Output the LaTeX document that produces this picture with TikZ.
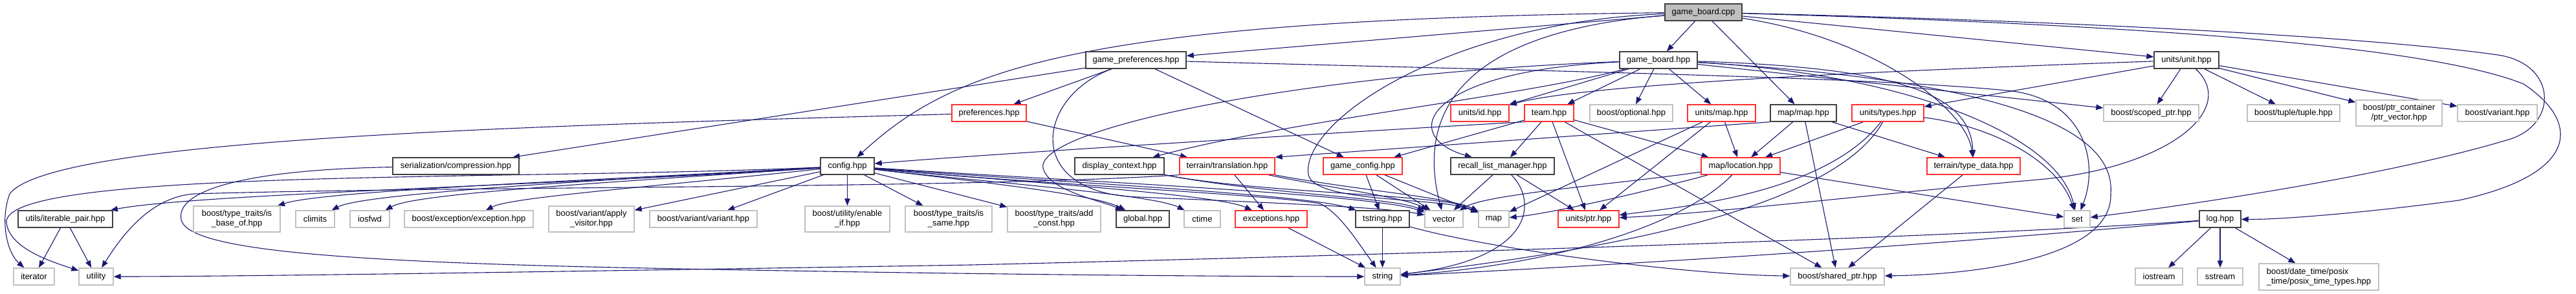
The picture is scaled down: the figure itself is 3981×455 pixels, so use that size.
\documentclass[tikz,border=0pt]{standalone}
\usepackage{fontspec}
\setmainfont{Liberation Sans}
\usetikzlibrary{arrows.meta,backgrounds}
\definecolor{edgec}{HTML}{191970}
\definecolor{bbord}{HTML}{404040}
\definecolor{rbord}{HTML}{FF3030}
\definecolor{gbord}{HTML}{C0C0C0}
\definecolor{gfill}{HTML}{BFBFBF}
\tikzset{
 box/.style={rectangle, inner sep=0pt, minimum height=26pt, line width=1.4pt, fill=white, text=black, font=\fontsize{13}{15}\selectfont},
 bbox/.style={box, draw=bbord},
 rbox/.style={box, draw=rbord},
 gbox/.style={box, draw=gbord},
 twoline/.style={minimum height=40pt, align=center},
 dep/.style={draw=edgec, line width=1.1pt, -{Triangle[length=11pt,width=8.5pt]}},
}
\begin{document}
\begin{tikzpicture}[x=1pt,y=-1pt]
\useasboundingbox (0,0) rectangle (3981,455);
% row 0
\node[bbox,minimum width=119pt,fill=gfill] (gbc) at (2632.5,19) {game\_board.cpp};
% row 1
\node[bbox,minimum width=155pt] (gp) at (1755.5,93) {game\_preferences.hpp};
\node[bbox,minimum width=120pt] (gbh) at (2563,93) {game\_board.hpp};
\node[bbox,minimum width=100pt] (unit) at (3379,93) {units/unit.hpp};
% row 2
\node[rbox,minimum width=115pt] (prefs) at (1528.5,175) {preferences.hpp};
\node[rbox,minimum width=90pt] (uid) at (2287,175) {units/id.hpp};
\node[rbox,minimum width=76pt] (team) at (2394,175) {team.hpp};
\node[gbox,minimum width=128pt] (optional) at (2521,175) {boost/optional.hpp};
\node[rbox,minimum width=105pt] (umap) at (2660.5,175) {units/map.hpp};
\node[bbox,minimum width=102pt] (mapmap) at (2787,175) {map/map.hpp};
\node[rbox,minimum width=111pt] (types) at (2917.5,175) {units/types.hpp};
\node[gbox,minimum width=147pt] (scoped) at (3324.5,175) {boost/scoped\_ptr.hpp};
\node[gbox,minimum width=143pt] (tuple) at (3544.5,175) {boost/tuple/tuple.hpp};
\node[gbox,twoline,minimum width=133pt] (ptrvec) at (3707.5,175) {boost/ptr\_container\\/ptr\_vector.hpp};
\node[gbox,minimum width=123pt] (variant) at (3859.5,175) {boost/variant.hpp};
% row 3
\node[bbox,minimum width=195pt] (compr) at (704.5,257) {serialization/compression.hpp};
\node[bbox,minimum width=83pt] (config) at (1309.5,257) {config.hpp};
\node[bbox,minimum width=138pt] (dctx) at (1730,257) {display\_context.hpp};
\node[rbox,minimum width=147pt] (trans) at (1896.5,257) {terrain/translation.hpp};
\node[rbox,minimum width=122pt] (gcfg) at (2106,257) {game\_config.hpp};
\node[bbox,minimum width=160pt] (recall) at (2322,257) {recall\_list\_manager.hpp};
\node[rbox,minimum width=122pt] (loc) at (2690,257) {map/location.hpp};
\node[rbox,minimum width=144pt] (tdata) at (3050,257) {terrain/type\_data.hpp};
% row 4
\node[bbox,minimum width=146pt] (ipair) at (101,339) {utils/iterable\_pair.hpp};
\node[gbox,twoline,minimum width=134pt] (isbase) at (366,339) {boost/type\_traits/is\\\_base\_of.hpp};
\node[gbox,minimum width=60pt] (climits) at (487,339) {climits};
\node[gbox,minimum width=61pt] (iosfwd) at (571.5,339) {iosfwd};
\node[gbox,minimum width=199pt] (bexc) at (724.5,339) {boost/exception/exception.hpp};
\node[gbox,twoline,minimum width=132pt] (applyv) at (914,339) {boost/variant/apply\\\_visitor.hpp};
\node[gbox,minimum width=166pt] (varvar) at (1087,339) {boost/variant/variant.hpp};
\node[gbox,twoline,minimum width=131pt] (enif) at (1309.5,339) {boost/utility/enable\\\_if.hpp};
\node[gbox,twoline,minimum width=134pt] (issame) at (1466,339) {boost/type\_traits/is\\\_same.hpp};
\node[gbox,twoline,minimum width=144pt] (addc) at (1629,339) {boost/type\_traits/add\\\_const.hpp};
\node[bbox,minimum width=82pt] (global) at (1766,339) {global.hpp};
\node[gbox,minimum width=56pt] (ctime) at (1858,339) {ctime};
\node[rbox,minimum width=111pt] (excs) at (1964.5,339) {exceptions.hpp};
\node[bbox,minimum width=83pt] (tstr) at (2136.5,339) {tstring.hpp};
\node[gbox,minimum width=59pt] (vector) at (2231.5,339) {vector};
\node[gbox,minimum width=47pt] (map) at (2308.5,339) {map};
\node[rbox,minimum width=94pt] (uptr) at (2455,339) {units/ptr.hpp};
\node[gbox,minimum width=40pt] (set) at (3210,339) {set};
\node[bbox,minimum width=64pt] (log) at (3431,339) {log.hpp};
% row 5
\node[gbox,minimum width=63pt] (iter) at (52.5,428) {iterator};
\node[gbox,minimum width=53pt] (util) at (148.5,428) {utility};
\node[gbox,minimum width=55pt] (string) at (2136.5,428) {string};
\node[gbox,minimum width=145pt] (sptr) at (2839.5,428) {boost/shared\_ptr.hpp};
\node[gbox,minimum width=73pt] (iostr) at (3336.5,428) {iostream};
\node[gbox,minimum width=70pt] (sstr) at (3431,428) {sstream};
\node[gbox,twoline,align=left,minimum width=185pt,minimum height=41pt] (posix) at (3583.5,428.5) {boost/date\_time/posix\\\_time/posix\_time\_types.hpp};

\begin{scope}[on background layer]
\fill[white] (0,0) rectangle (3981,455);
% game_board.cpp
\draw[dep] (gbc) -- (gbh);
\draw[dep] (gbc) -- (mapmap);
\draw[dep] (gbc) -- (gp);
\draw[dep] (gbc) .. controls (1650,30) and (1470,110) .. (config);
\draw[dep] (gbc) .. controls (2250,50) and (2190,180) .. (vector);
\draw[dep] (gbc) .. controls (2230,35) and (2010,190) .. (2022,270) .. controls (2030,315) and (2230,305) .. (map);
\draw[dep] (gbc) -- (unit);
\draw[dep] (gbc) .. controls (2900,60) and (3040,170) .. (tdata);
\draw[dep] (gbc) .. controls (3300,35) and (3700,62) .. (3860,85) .. controls (3950,98) and (3955,190) .. (3880,215) .. controls (3700,270) and (3400,315) .. (set);
\draw[dep] (gbc) .. controls (3300,38) and (3750,70) .. (3900,130) .. controls (3990,190) and (3985,270) .. (3800,310) .. controls (3650,330) and (3520,340) .. (log);
% game_preferences.hpp
\draw[dep] (gp) -- (compr);
\draw[dep] (gp) -- (prefs);
\draw[dep] (gp) -- (gcfg);
\draw[dep] (gp) .. controls (2400,110) and (2900,120) .. (3100,140) .. controls (3220,150) and (3245,250) .. (set);
\draw[dep] (gp) .. controls (1600,150) and (1580,300) .. (1760,305) .. controls (2000,315) and (2150,322) .. (vector);
% game_board.hpp
\draw[dep] (gbh) .. controls (2000,115) and (1600,200) .. (1612,260) .. controls (1620,295) and (1700,310) .. (global);
\draw[dep] (gbh) .. controls (2350,150) and (2000,185) .. (dctx);
\draw[dep] (gbh) -- (uid);
\draw[dep] (gbh) -- (team);
\draw[dep] (gbh) -- (optional);
\draw[dep] (gbh) -- (umap);
\draw[dep] (gbh) .. controls (2200,110) and (2160,210) .. (recall);
\draw[dep] (gbh) -- (scoped);
\draw[dep] (gbh) .. controls (2950,115) and (3180,210) .. (set);
\draw[dep] (gbh) .. controls (2950,105) and (3045,150) .. (tdata);
\draw[dep] (gbh) .. controls (3100,125) and (3270,200) .. (3262,300) .. controls (3265,400) and (3050,425) .. (sptr);
% preferences.hpp
\draw[dep] (prefs) -- (trans);
\draw[dep] (prefs) .. controls (800,195) and (80,215) .. (15,300) .. controls (0,340) and (10,390) .. (iter);
% config.hpp
\draw[dep] (config) .. controls (900,285) and (300,300) .. (ipair);
\draw[dep] (config) .. controls (900,280) and (500,295) .. (isbase);
\draw[dep] (config) .. controls (900,280) and (560,300) .. (climits);
\draw[dep] (config) .. controls (900,285) and (640,300) .. (iosfwd);
\draw[dep] (config) .. controls (1000,290) and (790,305) .. (bexc);
\draw[dep] (config) -- (applyv);
\draw[dep] (config) -- (varvar);
\draw[dep] (config) -- (enif);
\draw[dep] (config) -- (issame);
\draw[dep] (config) -- (addc);
\draw[dep] (config) .. controls (1500,280) and (1690,300) .. (global);
\draw[dep] (config) .. controls (1500,280) and (1780,300) .. (ctime);
\draw[dep] (config) .. controls (1550,280) and (1880,300) .. (excs);
\draw[dep] (config) .. controls (1600,280) and (2020,300) .. (tstr);
\draw[dep] (config) .. controls (1650,280) and (2120,300) .. (vector);
\draw[dep] (config) .. controls (1600,285) and (1950,300) .. (2040,315) .. controls (2070,330) and (2095,370) .. (string);
\draw[dep] (config) .. controls (800,280) and (0,260) .. (10,345) .. controls (15,385) and (80,405) .. (util);
% serialization/compression.hpp
\draw[dep] (compr) .. controls (400,262) and (270,290) .. (280,340) .. controls (290,385) and (500,405) .. (1000,415) .. controls (1500,425) and (1900,428) .. (string);
% display_context.hpp
\draw[dep] (dctx) .. controls (1950,300) and (2150,305) .. (vector);
\draw[dep] (dctx) .. controls (1950,300) and (2230,300) .. (map);
% terrain/translation.hpp
\draw[dep] (trans) -- (excs);
\draw[dep] (trans) .. controls (2050,290) and (2170,305) .. (vector);
\draw[dep] (trans) .. controls (2100,295) and (2240,305) .. (map);
\draw[dep] (trans.south west) .. controls (1500,292) and (700,288) .. (300,300) .. controls (230,305) and (185,370) .. (util);
% game_config.hpp
\draw[dep] (gcfg) -- (tstr);
\draw[dep] (gcfg) -- (vector);
\draw[dep] (gcfg) -- (map);
% recall_list_manager.hpp
\draw[dep] (recall) -- (vector);
\draw[dep] (recall) -- (uptr);
\draw[dep] (recall) .. controls (2375,310) and (2375,400) .. (string);
% team.hpp
\draw[dep] (team.south west) .. controls (2150,200) and (1500,240) .. (config);
\draw[dep] (team) -- (gcfg);
\draw[dep] (team) -- (recall);
\draw[dep] (team) -- (uptr);
\draw[dep] (team) -- (loc);
\draw[dep] (team) -- (sptr);
% units/map.hpp
\draw[dep] (umap) -- (loc);
\draw[dep] (umap) -- (uptr);
\draw[dep] (umap) -- (map);
% map/map.hpp
\draw[dep] (mapmap) -- (loc);
\draw[dep] (mapmap.south west) -- (trans.north east);
\draw[dep] (mapmap) -- (tdata);
\draw[dep] (mapmap) -- (sptr);
% units/types.hpp
\draw[dep] (types) -- (loc);
\draw[dep] (types) .. controls (2820,300) and (2600,320) .. (uptr);
\draw[dep] (types) .. controls (2830,330) and (2450,390) .. (string);
\draw[dep] (types) .. controls (3080,195) and (3180,250) .. (set);
% map/location.hpp
\draw[dep] (loc) -- (set);
\draw[dep] (loc) .. controls (2600,350) and (2400,410) .. (string);
\draw[dep] (loc) .. controls (2500,285) and (2300,300) .. (vector);
\draw[dep] (loc) .. controls (2550,295) and (2400,330) .. (map);
% terrain/type_data.hpp
\draw[dep] (tdata) -- (sptr);
% units/unit.hpp
\draw[dep] (unit) .. controls (2900,110) and (2450,130) .. (uid);
\draw[dep] (unit) -- (types);
\draw[dep] (unit) .. controls (3460,170) and (3350,260) .. (3150,278) .. controls (2900,300) and (2650,330) .. (uptr);
\draw[dep] (unit) -- (scoped);
\draw[dep] (unit) -- (tuple);
\draw[dep] (unit) -- (ptrvec);
\draw[dep] (unit) -- (variant);
% tstring, exceptions, iterable_pair
\draw[dep] (tstr) -- (string);
\draw[dep] (tstr) .. controls (2300,385) and (2600,425) .. (sptr);
\draw[dep] (excs) -- (string);
\draw[dep] (ipair) -- (iter);
\draw[dep] (ipair) -- (util);
% log.hpp
\draw[dep] (log) -- (iostr);
\draw[dep] (log) -- (sstr);
\draw[dep] (log) -- (posix);
\draw[dep] (log) .. controls (3000,370) and (2000,398) .. (1500,410) .. controls (1000,418) and (400,428) .. (util);
\draw[dep] (log) .. controls (3000,378) and (2600,405) .. (string);
\end{scope}
\end{tikzpicture}
\end{document}
